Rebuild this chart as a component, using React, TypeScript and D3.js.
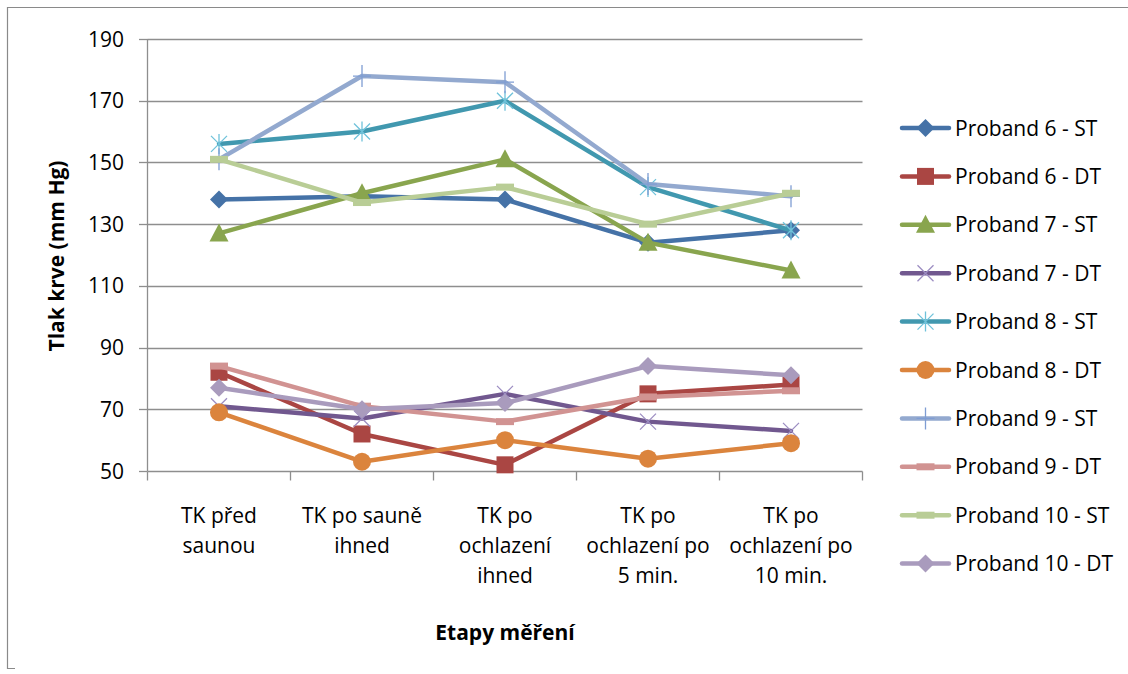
import React, { useEffect, useRef } from 'react'
import * as d3 from 'd3'

const categories = [
  'TK před\nsaunou',
  'TK po sauně\nihned',
  'TK po\nochlazení\nihned',
  'TK po\nochlazení po\n5 min.',
  'TK po\nochlazení po\n10 min.',
]

const seriesNames = [
  'Proband 6 - ST',
  'Proband 6 - DT',
  'Proband 7 - ST',
  'Proband 7 - DT',
  'Proband 8 - ST',
  'Proband 8 - DT',
  'Proband 9 - ST',
  'Proband 9 - DT',
  'Proband 10 - ST',
  'Proband 10 - DT',
]

const p6st = [138, 139, 138, 124, 128]
const p6dt = [82, 62, 52, 75, 78]
const p7st = [127, 140, 151, 124, 115]
const p7dt = [71, 67, 75, 66, 63]
const p8st = [156, 160, 170, 142, 128]
const p8dt = [69, 53, 60, 54, 59]
const p9st = [151, 178, 176, 143, 139]
const p9dt = [84, 71, 66, 74, 76]
const p10st = [151, 137, 142, 130, 140]
const p10dt = [77, 70, 72, 84, 81]

const yTicks = [50, 70, 90, 110, 130, 150, 170, 190]

const seriesValues = [p6st, p6dt, p7st, p7dt, p8st, p8dt, p9st, p9dt, p10st, p10dt]

const lineColors = [
  '#4572A7', '#AA4643', '#89A54E', '#71588F', '#4198AF',
  '#DB843D', '#93A9CF', '#D19392', '#B9CD96', '#A99BBD',
]
const markerTypes = [
  'diamond', 'square', 'triangle', 'x', 'star',
  'circle', 'plus', 'dash', 'dash', 'diamond',
]
const markerColors = [
  '#4572A7', '#AA4643', '#89A54E', '#9C8DC2', '#6FC2DA',
  '#DB843D', '#7F9DD3', '#D19392', '#B9CD96', '#A99BBD',
]

const W = 1128
const H = 674
const FONT = '"Open Sans", sans-serif'

function drawMarker(
  g: d3.Selection<SVGGElement, unknown, null, undefined>,
  type: string,
  cx: number,
  cy: number,
  color: string
) {
  if (type === 'diamond') {
    g.append('path')
      .attr('d', `M${cx},${cy - 9}L${cx + 9},${cy}L${cx},${cy + 9}L${cx - 9},${cy}Z`)
      .attr('fill', color)
  } else if (type === 'square') {
    g.append('rect')
      .attr('x', cx - 8.5).attr('y', cy - 8.5)
      .attr('width', 17).attr('height', 17)
      .attr('fill', color)
  } else if (type === 'triangle') {
    g.append('path')
      .attr('d', `M${cx},${cy - 10}L${cx + 9.5},${cy + 8}L${cx - 9.5},${cy + 8}Z`)
      .attr('fill', color)
  } else if (type === 'circle') {
    g.append('circle').attr('cx', cx).attr('cy', cy).attr('r', 9).attr('fill', color)
  } else if (type === 'x') {
    g.append('path')
      .attr('d', `M${cx - 8},${cy - 8}L${cx + 8},${cy + 8}M${cx - 8},${cy + 8}L${cx + 8},${cy - 8}`)
      .attr('stroke', color).attr('stroke-width', 1.3).attr('fill', 'none')
  } else if (type === 'star') {
    g.append('path')
      .attr('d', `M${cx - 8},${cy - 8}L${cx + 8},${cy + 8}M${cx - 8},${cy + 8}L${cx + 8},${cy - 8}M${cx},${cy - 10}L${cx},${cy + 10}`)
      .attr('stroke', color).attr('stroke-width', 1.3).attr('fill', 'none')
  } else if (type === 'plus') {
    g.append('path')
      .attr('d', `M${cx - 9},${cy}L${cx + 9},${cy}M${cx},${cy - 11}L${cx},${cy + 11}`)
      .attr('stroke', color).attr('stroke-width', 1.3).attr('fill', 'none')
  } else if (type === 'dash') {
    g.append('rect')
      .attr('x', cx - 9).attr('y', cy - 3.5)
      .attr('width', 18).attr('height', 7)
      .attr('fill', color)
  }
}

const App: React.FC = () => {
  const svgRef = useRef<SVGSVGElement | null>(null)

  useEffect(() => {
    if (!svgRef.current) return
    const svg = d3.select(svgRef.current)
    svg.selectAll('*').remove()

    const x = d3.scaleBand().domain(categories).range([147.5, 862.5]).padding(0)
    const y = d3.scaleLinear().domain([50, 190]).range([471, 39])
    const cx = (c: string) => x(c)! + x.bandwidth() / 2

    // outer frame (top + left only)
    svg.append('path')
      .attr('d', `M${W},7.5H7.5V668.5H15`)
      .attr('fill', 'none').attr('stroke', '#8a8a8a').attr('stroke-width', 1.2)

    // gridlines
    svg.append('g')
      .selectAll('line')
      .data(yTicks.filter((t) => t !== 50))
      .join('line')
      .attr('x1', 147.5).attr('x2', 862.5)
      .attr('y1', (d) => Math.round(y(d)) + 0.5).attr('y2', (d) => Math.round(y(d)) + 0.5)
      .attr('stroke', '#8e8e8e').attr('stroke-width', 1.3)

    // y axis
    const yAxis = svg.append('g')
    yAxis.append('line')
      .attr('x1', 147.5).attr('x2', 147.5).attr('y1', y(190)).attr('y2', y(50))
      .attr('stroke', '#8e8e8e').attr('stroke-width', 1.3)
    yAxis.selectAll('line.tick')
      .data(yTicks)
      .join('line')
      .attr('class', 'tick')
      .attr('x1', 139).attr('x2', 147.5)
      .attr('y1', (d) => Math.round(y(d)) + 0.5).attr('y2', (d) => Math.round(y(d)) + 0.5)
      .attr('stroke', '#8e8e8e').attr('stroke-width', 1.3)
    yAxis.selectAll('text')
      .data(yTicks)
      .join('text')
      .attr('x', 124).attr('y', (d) => y(d))
      .attr('dy', '0.36em')
      .attr('text-anchor', 'end')
      .attr('font-family', FONT).attr('font-size', 21).attr('fill', '#000')
      .text((d) => d.toString())

    // x axis
    const xAxis = svg.append('g')
    xAxis.append('line')
      .attr('x1', 147.5).attr('x2', 862.5).attr('y1', 471.5).attr('y2', 471.5)
      .attr('stroke', '#8e8e8e').attr('stroke-width', 1.3)
    const bounds = categories.map((c) => x(c)!).concat([862.5])
    xAxis.selectAll('line.tick')
      .data(bounds)
      .join('line')
      .attr('class', 'tick')
      .attr('x1', (d) => d).attr('x2', (d) => d)
      .attr('y1', 471.5).attr('y2', 480.5)
      .attr('stroke', '#8e8e8e').attr('stroke-width', 1.3)
    categories.forEach((c) => {
      const t = xAxis.append('text')
        .attr('text-anchor', 'middle')
        .attr('font-family', FONT).attr('font-size', 21).attr('fill', '#000')
      c.split('\n').forEach((ln, i) => {
        t.append('tspan').attr('x', cx(c)).attr('y', 523 + i * 30).text(ln)
      })
    })

    // axis titles
    svg.append('text')
      .attr('x', 505).attr('y', 640)
      .attr('text-anchor', 'middle')
      .attr('font-family', FONT).attr('font-size', 21).attr('font-weight', 'bold')
      .text('Etapy měření')
    svg.append('text')
      .attr('transform', 'translate(64,256) rotate(-90)')
      .attr('text-anchor', 'middle')
      .attr('font-family', FONT).attr('font-size', 21).attr('font-weight', 'bold')
      .text('Tlak krve (mm Hg)')

    // series
    const line = d3.line<number>()
      .x((_, i) => cx(categories[i]))
      .y((d) => y(d))
    seriesValues.forEach((vals, si) => {
      const g = svg.append('g')
      g.append('path')
        .attr('d', line(vals)!)
        .attr('fill', 'none')
        .attr('stroke', lineColors[si])
        .attr('stroke-width', 4.5)
        .attr('stroke-linejoin', 'round')
        .attr('stroke-linecap', 'round')
      vals.forEach((v, i) => drawMarker(g, markerTypes[si], cx(categories[i]), y(v), markerColors[si]))
    })

    // legend
    const legend = svg.append('g')
    seriesNames.forEach((name, si) => {
      const ly = 128 + si * 48.4
      const g = legend.append('g')
      g.append('line')
        .attr('x1', 902).attr('x2', 949).attr('y1', ly).attr('y2', ly)
        .attr('stroke', lineColors[si]).attr('stroke-width', 4.5)
        .attr('stroke-linecap', 'round')
      drawMarker(g, markerTypes[si], 925.5, ly, markerColors[si])
      g.append('text')
        .attr('x', 955).attr('y', ly).attr('dy', '0.36em')
        .attr('font-family', FONT).attr('font-size', 21).attr('fill', '#000')
        .text(name)
    })
  }, [])

  return (
    <svg
      ref={svgRef}
      width={W}
      height={H}
      style={{ position: 'absolute', left: 0, top: 0, background: '#fff' }}
    ></svg>
  )
}

export default App
